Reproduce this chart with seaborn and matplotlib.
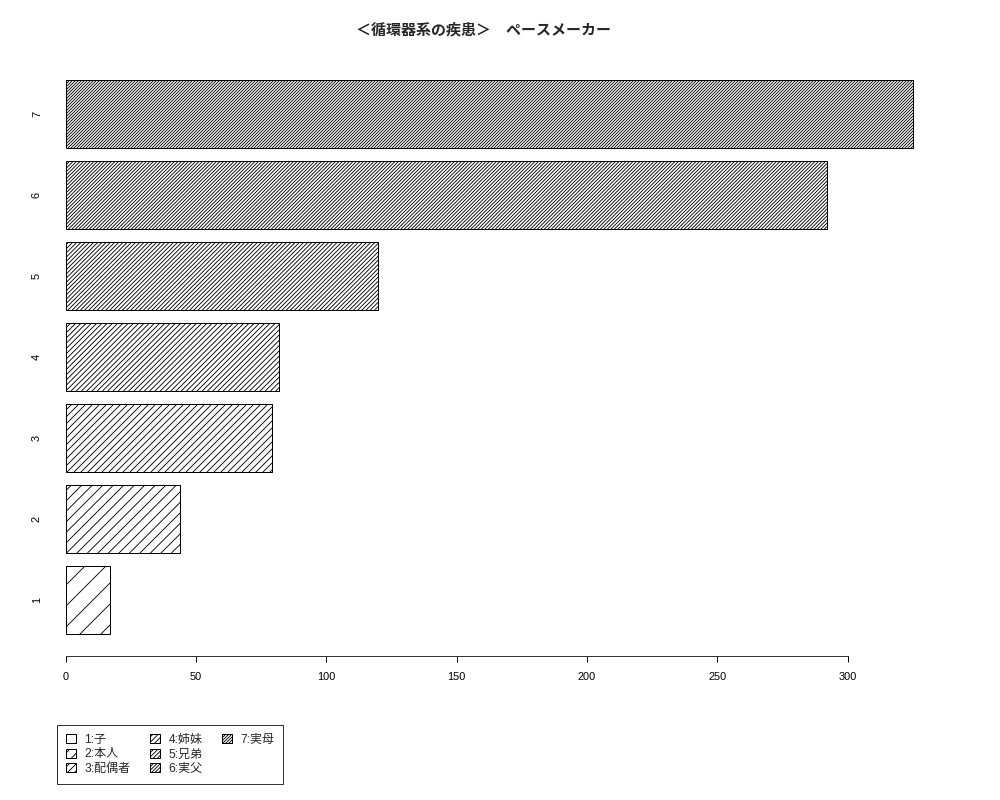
import numpy as np
import seaborn as sns
import matplotlib
matplotlib.use('Agg')
import matplotlib.pyplot as plt
from matplotlib.patches import Patch

# data
bar_labels = ['1', '2', '3', '4', '5', '6', '7']
bar_values = [17, 44, 79, 82, 120, 292, 325]
legend_names = ['1:子', '2:本人', '3:配偶者', '4:姉妹', '5:兄弟', '6:実父', '7:実母']
x_ticks = [0, 50, 100, 150, 200, 250, 300]
title_str = '＜循環器系の疾患＞　ペースメーカー'

DPI = 126  # '//' hatch then gives ~21px line spacing like the reference
W, H = 1000, 800

sns.set_style('white')
plt.rcParams['font.family'] = ['Liberation Sans', 'Noto Sans CJK JP', 'DejaVu Sans']
plt.rcParams['hatch.linewidth'] = 0.5
plt.rcParams['hatch.color'] = 'black'


def pt(px):
    # pixels -> points at this dpi
    return px * 72.0 / DPI


def hatch_for(lab):
    # density grows with the category number
    return '/' * (2 * int(lab))


fig = plt.figure(figsize=(W / DPI, H / DPI), dpi=DPI)
ax = fig.add_axes([50 / W, 1 - 656 / H, (946 - 50) / W, (656 - 58) / H])

order = bar_labels[::-1]
sns.barplot(x=bar_values, y=bar_labels, order=order, orient='h',
            color='white', edgecolor='black', linewidth=pt(1.0),
            width=0.836, saturation=1, ax=ax)

for patch, lab in zip(ax.patches, order):
    patch.set_hatch(hatch_for(lab))
    patch.set_facecolor('white')

ax.set_xlim(-(65.7 - 50) / 2.606, (946 - 65.7) / 2.606)
ax.set_ylim(6.69, -0.69)
ax.set_xlabel('')
ax.set_ylabel('')

ax.set_xticks(x_ticks)
ax.set_xticklabels([str(t) for t in x_ticks])
ax.tick_params(axis='x', direction='out', length=pt(6), width=pt(1),
               pad=pt(10), labelsize=pt(11), colors='black', bottom=True)
ax.tick_params(axis='y', length=0, pad=pt(8), labelsize=pt(11), colors='black')
for lbl in ax.get_yticklabels():
    lbl.set_rotation(90)
    lbl.set_va('center')

for side in ['top', 'right', 'left']:
    ax.spines[side].set_visible(False)
ax.spines['bottom'].set_bounds(0, 300)
ax.spines['bottom'].set_color('#333333')
ax.spines['bottom'].set_linewidth(pt(1))

fig.text(483 / W, 1 - 30 / H, title_str, ha='center', va='center',
         fontsize=pt(15), fontweight='bold')

# legend: 3 rows filled column-wise (3 / 3 / 1), padded with empty slots
handles = [Patch(facecolor='white', edgecolor='black', hatch=hatch_for(l),
                 linewidth=pt(1)) for l in bar_labels]
names = list(legend_names)
for _ in range(2):
    handles.append(Patch(visible=False))
    names.append('')
leg = fig.legend(handles, names, ncol=3, loc='upper left',
                 bbox_to_anchor=(57 / W, 1 - 725 / H), fontsize=pt(12),
                 frameon=True, fancybox=False, handlelength=0.85,
                 handleheight=0.75, handletextpad=0.7, columnspacing=1.6,
                 labelspacing=0.2, borderpad=0.75, borderaxespad=0)
leg.get_frame().set_edgecolor('black')
leg.get_frame().set_linewidth(pt(1))

fig.savefig('out.png', dpi=DPI)
